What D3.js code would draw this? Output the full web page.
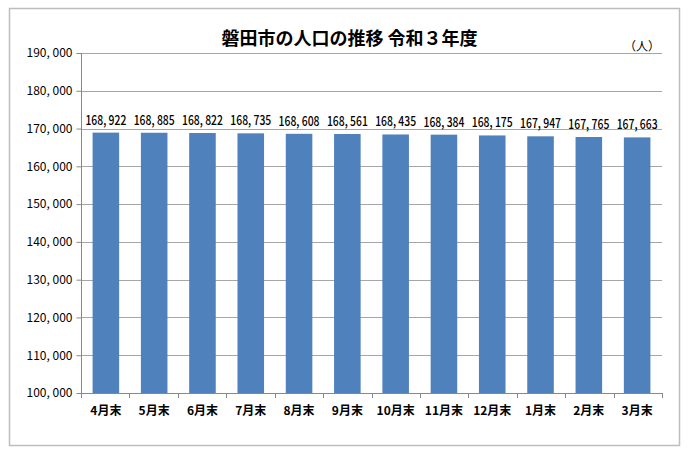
<!DOCTYPE html>
<html><head><meta charset="utf-8">
<script src="https://cdn.jsdelivr.net/npm/d3@7/dist/d3.min.js"></script>
<style>
body{margin:0;background:#fff;}
text{font-family:"Noto Sans CJK JP","Noto Sans",sans-serif;}
</style></head>
<body><svg id="c" width="690" height="454"></svg>
<script>
const categories = ["4月末","5月末","6月末","7月末","8月末","9月末","10月末","11月末","12月末","1月末","2月末","3月末"];
const population = [168922,168885,168822,168735,168608,168561,168435,168384,168175,167947,167765,167663];
const yTicks = [100000,110000,120000,130000,140000,150000,160000,170000,180000,190000];
const title = "磐田市の人口の推移 令和３年度";
const unit = "（人）";

const svg = d3.select("#c");
svg.append("rect").attr("x",9.5).attr("y",8.5).attr("width",670).attr("height",437)
  .attr("fill","#fff").attr("stroke","#bdbdbd").attr("stroke-width",1.5);

const m = {l:81, r:662, t:53, b:393};
const x = d3.scaleBand().domain(categories).range([m.l, m.r]).paddingInner(0.45).paddingOuter(0.24);
const y = d3.scaleLinear().domain([100000,190000]).range([m.b, m.t]);
const fmt = v => d3.format(",")(v).replace(",", ", ");

// gridlines
svg.append("g").selectAll("line").data(yTicks).join("line")
  .attr("x1",m.l).attr("x2",m.r).attr("y1",d=>Math.round(y(d))+0.5).attr("y2",d=>Math.round(y(d))+0.5)
  .attr("stroke","#a6a6a6").attr("stroke-width",1);

// bars
svg.append("g").selectAll("rect").data(population).join("rect")
  .attr("x",(d,i)=>x(categories[i])).attr("width",x.bandwidth())
  .attr("y",d=>y(d)).attr("height",d=>m.b-y(d)).attr("fill","#4f81bd");

// y axis
const ya = svg.append("g").attr("transform",`translate(${m.l+0.5},0)`)
  .call(d3.axisLeft(y).tickValues(yTicks).tickFormat(fmt).tickSize(5).tickPadding(4));
ya.select(".domain").attr("stroke","#888").attr("d",`M0,${m.t}V${m.b}`);
ya.selectAll(".tick line").attr("stroke","#888");
ya.selectAll("text").attr("font-size",12).attr("fill","#000").attr("font-family","'Noto Sans CJK JP',sans-serif");

// x axis
const xEdges = d3.range(categories.length+1).map(i=>m.l + i*(m.r-m.l)/categories.length);
svg.append("line").attr("x1",m.l).attr("x2",m.r).attr("y1",m.b+0.5).attr("y2",m.b+0.5).attr("stroke","#888");
svg.append("g").selectAll("line").data(xEdges).join("line")
  .attr("x1",d=>Math.round(d)+0.5).attr("x2",d=>Math.round(d)+0.5).attr("y1",m.b).attr("y2",m.b+5).attr("stroke","#888");
svg.append("g").selectAll("text").data(categories).join("text")
  .attr("x",d=>x(d)+x.bandwidth()/2).attr("y",m.b+22).attr("text-anchor","middle")
  .attr("font-size",12).attr("font-weight","bold").attr("fill","#000").text(d=>d);

// value labels (horizontally condensed)
svg.append("g").selectAll("text").data(population).join("text")
  .attr("transform",(d,i)=>`translate(${x(categories[i])+x.bandwidth()/2},${y(d)-8}) scale(0.77,1)`)
  .attr("text-anchor","middle").attr("font-weight",500)
  .attr("font-size",13.5).attr("fill","#000").text(d=>fmt(d));

// title & unit
svg.append("text").attr("x",349.5).attr("y",45).attr("text-anchor","middle")
  .attr("font-size",18).attr("font-weight","bold").attr("fill","#000").text(title);
svg.append("text").attr("x",660).attr("y",51).attr("text-anchor","end")
  .attr("font-size",12).attr("fill","#000").text(unit);
</script></body></html>
